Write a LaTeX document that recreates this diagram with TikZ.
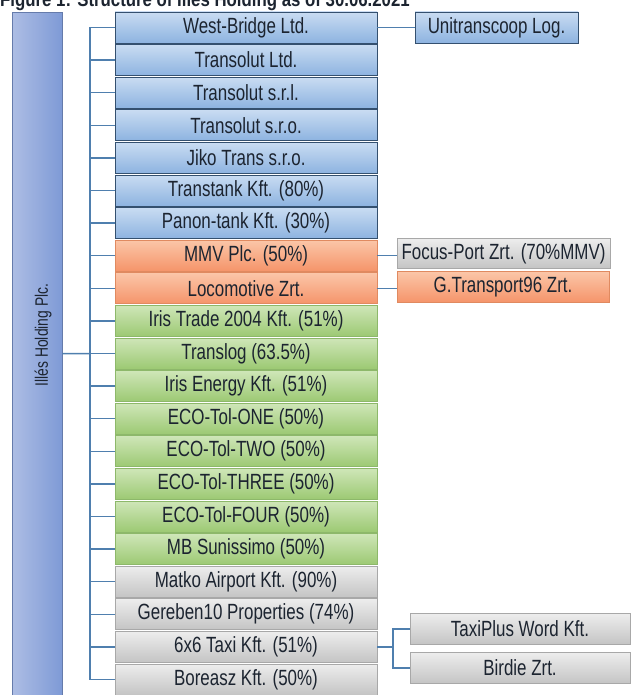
\documentclass[tikz,border=0pt]{standalone}
\usepackage{fontspec}
\setmainfont{Liberation Sans}
\newfontfamily\boxfont{Liberation Sans}[FakeStretch=0.77]
\newfontfamily\titlefont{Liberation Sans}[FakeStretch=0.84]
\usetikzlibrary{positioning}
\definecolor{conncol}{HTML}{4F7FAE}
\definecolor{bluetop}{HTML}{C9DCF2}
\definecolor{bluebot}{HTML}{8DB3E0}
\definecolor{blueline}{HTML}{34506F}
\definecolor{orgtop}{HTML}{FBC6A8}
\definecolor{orgbot}{HTML}{F5946A}
\definecolor{orgline}{HTML}{E08A60}
\definecolor{grntop}{HTML}{CFE6B8}
\definecolor{grnbot}{HTML}{9CC973}
\definecolor{grnline}{HTML}{8DB86A}
\definecolor{grytop}{HTML}{EDEDED}
\definecolor{grybot}{HTML}{C4C4C4}
\definecolor{gryline}{HTML}{A8A8A8}
\definecolor{holdl}{HTML}{ADBDE4}
\definecolor{holdr}{HTML}{7E9AD6}
\definecolor{txt}{HTML}{1C2430}
\begin{document}
\begin{tikzpicture}[x=1pt,y=-1pt,
  box/.style={rectangle,minimum width=262pt,minimum height=31pt,inner sep=0pt,
     font=\boxfont\fontsize{22}{24}\selectfont,text=txt,line width=0.8pt},
  bluebox/.style={box,draw=blueline,top color=bluetop,bottom color=bluebot},
  orgbox/.style={box,draw=orgline,top color=orgtop,bottom color=orgbot},
  grnbox/.style={box,draw=grnline,top color=grntop,bottom color=grnbot},
  grybox/.style={box,draw=gryline,top color=grytop,bottom color=grybot},
  conn/.style={draw=conncol,line width=1.5pt}]
\useasboundingbox (0,0) rectangle (631,695);
\clip (0,0) rectangle (631,695);
\node[anchor=base west,inner sep=0pt,font=\titlefont\bfseries\fontsize{20}{22}\selectfont,text=txt] (title) at (0,7) {Figure 1: Structure of Illés Holding as of 30.06.2021};
% holding bar
\node[rectangle,minimum width=50pt,minimum height=683pt,inner sep=0pt,anchor=north west,
  left color=holdl,right color=holdr,draw=holdr!80!black,line width=0.4pt] (hold) at (12,12) {};
\node[rotate=90,font=\boxfont\fontsize{18}{20}\selectfont,text=txt] (holdtxt) at (43,335) {Illés Holding Plc.};
% main column
\foreach \i/\s/\t in {0/bluebox/West-Bridge Ltd.,1/bluebox/Transolut Ltd.,2/bluebox/Transolut s.r.l.,
  3/bluebox/Transolut s.r.o.,4/bluebox/Jiko Trans s.r.o.,5/bluebox/Transtank Kft. (80\%),
  6/bluebox/Panon-tank Kft. (30\%),7/orgbox/MMV Plc. (50\%),8/orgbox/Locomotive Zrt.,
  9/grnbox/Iris Trade 2004 Kft. (51\%),10/grnbox/Translog (63.5\%),11/grnbox/Iris Energy Kft. (51\%),
  12/grnbox/ECO-Tol-ONE (50\%),13/grnbox/ECO-Tol-TWO (50\%),14/grnbox/ECO-Tol-THREE (50\%),
  15/grnbox/ECO-Tol-FOUR (50\%),16/grnbox/MB Sunissimo (50\%),17/grybox/Matko Airport Kft. (90\%),
  18/grybox/Gereben10 Properties (74\%),19/grybox/6x6 Taxi Kft. (51\%),20/grybox/Boreasz Kft. (50\%)}
  {\node[\s] (n\i) at (246,27.5+32.6*\i) {\t};}
% right side
\node[bluebox,minimum width=163pt] (uni) at (496.5,27.5) {Unitranscoop Log.};
\node[grybox,minimum width=213pt,minimum height=30pt] (focus) at (503.5,253.5) {Focus-Port Zrt. (70\%MMV)};
\node[orgbox,minimum width=212pt,minimum height=31pt] (gtr) at (503,287) {G.Transport96 Zrt.};
\node[grybox,minimum width=220pt,minimum height=31pt] (taxi) at (520,629) {TaxiPlus Word Kft.};
\node[grybox,minimum width=220pt,minimum height=31pt] (birdie) at (520,668) {Birdie Zrt.};
% connectors
\coordinate (trunk) at (90,353.5);
\draw[conn] (hold.east) -- (trunk);
\draw[conn] (n0.west -| trunk) -- (n20.west -| trunk);
\foreach \i in {0,...,20} {\draw[conn] (n\i.west) -- (n\i.west -| trunk);}
\draw[conn] (n0.east) -- (uni.west);
\draw[conn] (n7.east) -- (n7.east -| focus.west);
\draw[conn] (n8.east) -- (n8.east -| gtr.west);
\coordinate (tx) at (393,647);
\draw[conn] (n19.east) -- (n19.east -| tx);
\draw[conn] (taxi.west) -| (tx) |- (birdie.west);
\end{tikzpicture}
\end{document}
